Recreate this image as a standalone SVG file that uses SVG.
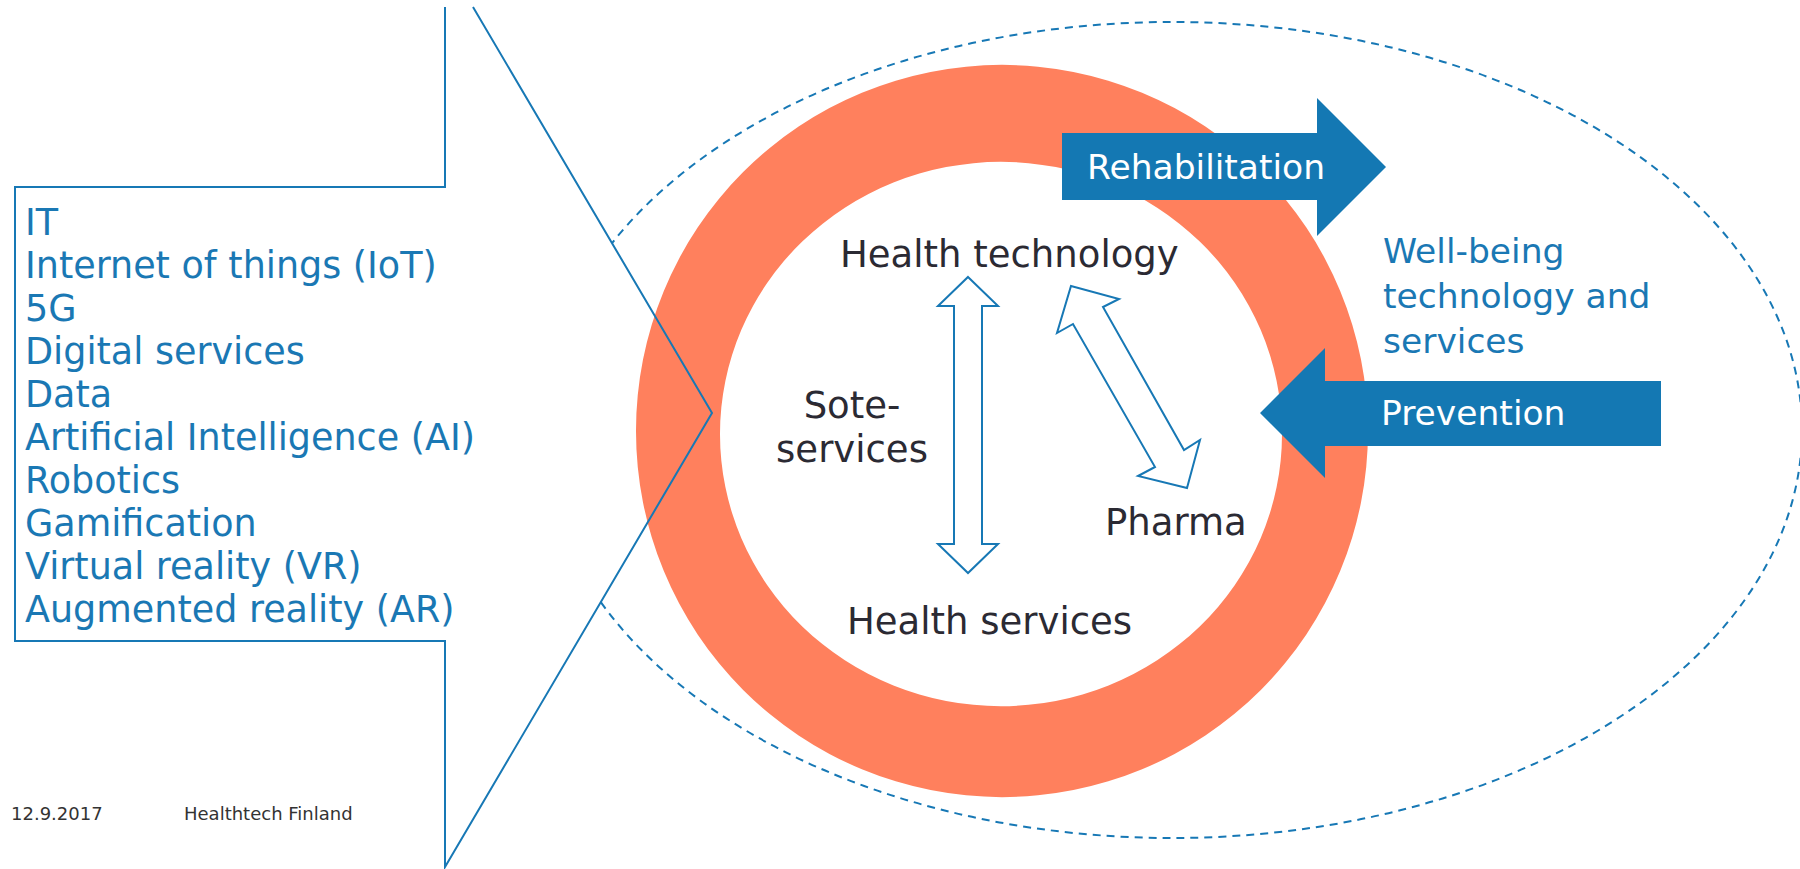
<svg xmlns="http://www.w3.org/2000/svg" width="1800" height="869" viewBox="0 0 1800 869">
<style>
.blue{fill:#1a78b4;font-family:"DejaVu Sans",Verdana,sans-serif;}
.dark{fill:#2b2a33;font-family:"DejaVu Sans",Verdana,sans-serif;font-size:37px;}
.white{fill:#ffffff;font-family:"DejaVu Sans",Verdana,sans-serif;font-size:34.5px;}
.outline{fill:#ffffff;stroke:#1778b5;stroke-width:2;stroke-linejoin:miter;}
.solid{fill:#1478b3;}
</style>
<rect width="1800" height="869" fill="#ffffff"/>
<g id="wellbeing-zone">
<ellipse cx="1172" cy="430" rx="630" ry="408" fill="none" stroke="#1778b5" stroke-width="2" stroke-dasharray="8,6"/>
</g>
<g id="technology-callout-fill">
<path d="M445,7 V187 H15 V641 H445 V867 L712,413 L473,7 Z" fill="#ffffff" stroke="none"/>
</g>
<g id="ring">
<path d="M636,431 a366,366 0 1,0 732,0 a366,366 0 1,0 -732,0 Z M720,434 a281,272 0 1,0 562,0 a281,272 0 1,0 -562,0 Z" fill="#ff805d" fill-rule="evenodd"/>
</g>
<g id="technology-callout">
<path d="M445,7 V187 H15 V641 H445 V867 L712,413 L473,7" fill="none" stroke="#1778b5" stroke-width="2"/>
<text class="blue" font-size="36.5">
<tspan x="25" y="235">IT</tspan>
<tspan x="25" y="278">Internet of things (IoT)</tspan>
<tspan x="25" y="321">5G</tspan>
<tspan x="25" y="364">Digital services</tspan>
<tspan x="25" y="407">Data</tspan>
<tspan x="25" y="450">Artificial Intelligence (AI)</tspan>
<tspan x="25" y="493">Robotics</tspan>
<tspan x="25" y="536">Gamification</tspan>
<tspan x="25" y="579">Virtual reality (VR)</tspan>
<tspan x="25" y="622">Augmented reality (AR)</tspan>
</text>
</g>
<g id="connectors">
<path class="outline" d="M968,277 L998,306 L982,306 L982,544 L998,544 L968,573 L938,544 L954,544 L954,306 L938,306 Z"/>
<path class="outline" d="M1071,286 L1119,299 L1103,307 L1184,450 L1200,440 L1187,488 L1138,476 L1155,467 L1073,324 L1057,333 Z"/>
</g>
<g id="health-technology"><text class="dark" x="840" y="267">Health technology</text></g>
<g id="sote-services"><text class="dark" text-anchor="middle"><tspan x="852" y="418">Sote-</tspan><tspan x="852" y="462">services</tspan></text></g>
<g id="pharma"><text class="dark" x="1105" y="535">Pharma</text></g>
<g id="health-services"><text class="dark" x="847" y="634">Health services</text></g>
<g id="rehabilitation">
<path class="solid" d="M1062,133 H1317 V98 L1386,167 L1317,236 V200 H1062 Z"/>
<text class="white" x="1087" y="179">Rehabilitation</text>
</g>
<g id="prevention">
<path class="solid" d="M1661,381 H1325 V348 L1260,413 L1325,478 V446 H1661 Z"/>
<text class="white" x="1381" y="425">Prevention</text>
</g>
<g id="wellbeing-label">
<text class="blue" font-size="34.5"><tspan x="1383" y="263">Well-being</tspan><tspan x="1383" y="308">technology and</tspan><tspan x="1383" y="353">services</tspan></text>
</g>
<g id="footer">
<text x="11" y="820" font-family="'DejaVu Sans',Verdana,sans-serif" font-size="18" fill="#333333">12.9.2017</text>
<text x="184" y="820" font-family="'DejaVu Sans',Verdana,sans-serif" font-size="18" fill="#333333">Healthtech Finland</text>
</g>
</svg>
